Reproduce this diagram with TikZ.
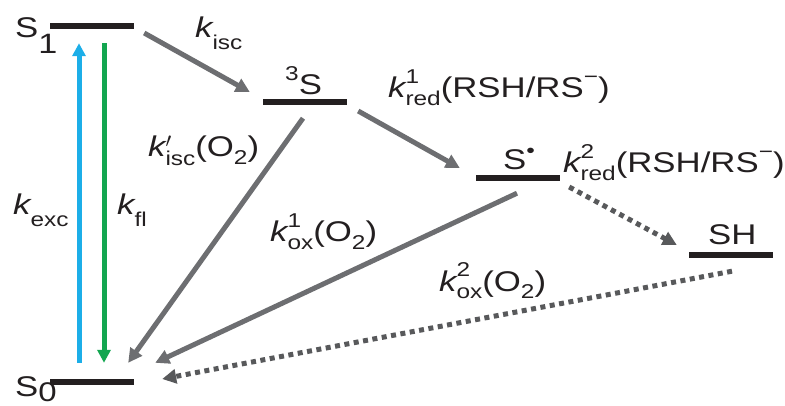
\documentclass[tikz,border=0pt]{standalone}
\usepackage{fontspec}
\setmainfont{Liberation Sans}[FakeStretch=1.22]
\usetikzlibrary{arrows.meta,calc}
\definecolor{barcol}{HTML}{231F20}
\definecolor{pathgray}{HTML}{6D6E71}
\definecolor{dotgray}{HTML}{58595B}
\definecolor{exccol}{HTML}{1CAEE8}
\definecolor{flcol}{HTML}{13A650}

\newcommand{\smallsz}{\fontsize{20}{20}\selectfont}
\newcommand{\lo}[2][-0.25em]{\raisebox{#1}{\smallsz #2}}
\newcommand{\hi}[2][0.5em]{\raisebox{#1}{\smallsz #2}}
% rate constants
\newcommand{\kone}[1]{\textit{k}\kern-1.5pt\lo[-0.42em]{#1}}
\newcommand{\ktwo}[2]{\textit{k}\kern-1.5pt\rlap{\hi{#2}}\lo{#1}}

\begin{document}
\begin{tikzpicture}[
  x=1pt, y=-1pt,
  font=\fontsize{28.5}{30}\selectfont, text=barcol,
  level/.style={rectangle, fill=barcol, inner sep=0pt,
                minimum width=84pt, minimum height=6pt},
  txt/.style={anchor=base west, inner sep=0pt},
  rate/.style={-{Triangle[length=14pt, width=14pt]}, line width=5pt, color=pathgray},
  slow/.style={rate, color=dotgray, dash pattern=on 5pt off 4.5pt},
]
  \useasboundingbox (0,0) rectangle (785,406);

  % energy levels
  \node[level] (s1) at (92,26) {};
  \node[level] (s0) at (92,382) {};
  \node[level] (trip) at (305,102) {};
  \node[level] (rad) at (518,178) {};
  \node[level] (sh) at (731,255) {};

  % state labels
  \node[txt] (s1lab) at (15,38) {S\lo[-0.53em]{\fontsize{28}{28}\selectfont 1}};
  \node[txt] (s0lab) at (15,396) {S\lo[-0.2em]{\fontsize{27}{27}\selectfont 0}};
  \node[txt] (triplab) at (285,95) {\hi{3}S};
  \node[txt] (radlab) at (503,170) {S\hi[0.45em]{•}};
  \node[txt] (shlab) at (708,245) {SH};

  % excitation and fluorescence
  \draw[-{Triangle[length=13pt, width=13pt]}, line width=5pt, exccol]
    ($(s0.north)+(-13,-16)$) -- ($(s1.south)+(-13,14)$);
  \draw[-{Triangle[length=13pt, width=13pt]}, line width=5pt, flcol]
    ($(s1.south)+(12,14)$) -- ($(s0.north)+(12,-16)$);

  % transitions
  \draw[rate] ($(s1.east)+(10,7)$) -- ($(trip.west)+(-13,-10)$);
  \draw[rate] ($(trip.east)+(11,9)$) -- ($(rad.west)+(-16,-10)$);
  \draw[rate] ($(trip.south)+(-2,13)$) -- ($(s0.north east)+(-6,-16)$);
  \draw[rate] ($(rad.south)+(-1,12)$) -- ($(s0.north east)+(21,-16)$);
  \draw[slow] ($(rad.east)+(9,9)$) -- ($(sh.west)+(-12,-10)$);
  \draw[slow] ($(sh.south)+(1,13)$) -- ($(s0.east)+(28,-3)$);

  % rate labels
  \node[txt] (kexc) at (13,215) {\kone{exc}};
  \node[txt] (kfl) at (117,215) {\kone{fl}};
  \node[txt] (kisc) at (195,38) {\kone{isc}};
  \node[txt] (kiscO) at (148,157) {\textit{k}\kern-1.5pt\rlap{$'$}\lo[-0.3em]{isc}(O\lo{2})};
  \node[txt] (kred1) at (388,98) {\ktwo{red}{1}(RSH/RS\hi{−})};
  \node[txt] (kred2) at (563,173) {\ktwo{red}{2}(RSH/RS\hi{−})};
  \node[txt] (kox1) at (270,242) {\ktwo{ox}{1}(O\lo{2})};
  \node[txt] (kox2) at (439,291) {\ktwo{ox}{2}(O\lo{2})};
\end{tikzpicture}
\end{document}
